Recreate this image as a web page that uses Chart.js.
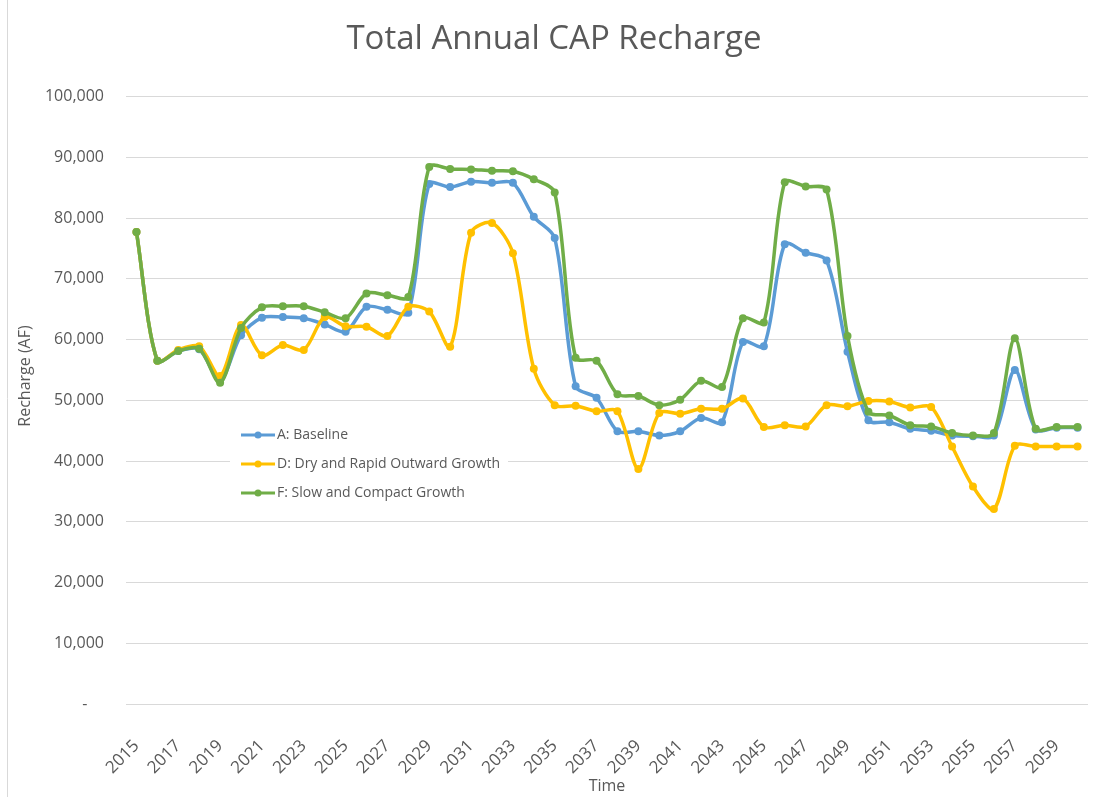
<!DOCTYPE html>
<html>
<head>
<meta charset="utf-8">
<script src="https://cdn.jsdelivr.net/npm/chart.js@4"></script>
<style>
  html,body{margin:0;padding:0;background:#fff;}
  #wrap{position:relative;width:1093px;height:797px;}
</style>
</head>
<body>
<div id="wrap"><canvas id="rechargeChart" width="1093" height="797"></canvas></div>
<script>
// data (acre-feet)
const years = [2015,2016,2017,2018,2019,2020,2021,2022,2023,2024,2025,2026,2027,2028,2029,2030,
  2031,2032,2033,2034,2035,2036,2037,2038,2039,2040,2041,2042,2043,2044,2045,2046,2047,2048,2049,
  2050,2051,2052,2053,2054,2055,2056,2057,2058,2059,2060];

const baseline = [77700,56500,58100,58400,53300,60700,63600,63700,63500,62500,61300,65400,64900,64400,85600,85100,
  86000,85800,85800,80200,76700,52300,50400,44900,44900,44200,44900,47100,46400,59600,58900,75700,74300,73000,58000,
  46700,46400,45300,45000,44200,44100,44200,55000,45200,45500,45500];

const dryRapid = [77700,56500,58300,58900,54000,62400,57400,59100,58300,63700,62200,62100,60600,65400,64600,58800,
  77600,79200,74200,55200,49200,49100,48200,48200,38700,47900,47800,48600,48600,50300,45600,45900,45700,49200,49000,
  49900,49800,48800,48900,42400,35800,32100,42500,42400,42400,42400];

const slowCompact = [77700,56500,58100,58500,52900,61900,65300,65500,65500,64500,63500,67600,67300,67000,88400,88100,
  88000,87800,87700,86400,84200,57000,56500,51000,50700,49200,50100,53200,52200,63500,62800,85900,85200,84700,60600,
  48100,47500,45900,45700,44600,44200,44600,60200,45300,45600,45600];

const seriesNames = ["A: Baseline","D: Dry and Rapid Outward Growth","F: Slow and Compact Growth"];
const seriesColors = ["#5B9BD5","#FFC000","#70AD47"];

const FONT = "'Open Sans', sans-serif";
const GREY = "#595959";

// legend sits inside the plot, Excel style; y title drawn here too
const insideLegend = {
  id: "insideLegend",
  afterDraw(chart){
    const ctx = chart.ctx;
    ctx.save();
    ctx.fillStyle = "#fff";
    ctx.fillRect(230, 420, 278, 90);
    chart.data.datasets.forEach((ds, i) => {
      const y = 435 + i * 29;
      ctx.strokeStyle = ds.borderColor;
      ctx.lineWidth = 3;
      ctx.beginPath();
      ctx.moveTo(241, y);
      ctx.lineTo(275, y);
      ctx.stroke();
      ctx.fillStyle = ds.borderColor;
      ctx.beginPath();
      ctx.arc(258, y, 3.5, 0, Math.PI * 2);
      ctx.fill();
      ctx.fillStyle = GREY;
      ctx.font = "14px " + FONT;
      ctx.textBaseline = "middle";
      ctx.textAlign = "left";
      ctx.fillText(ds.label, 277, y);
    });
    // axis title
    ctx.translate(25, 376);
    ctx.rotate(-Math.PI / 2);
    ctx.font = "16px " + FONT;
    ctx.textAlign = "center";
    ctx.fillText("Recharge (AF)", 0, 0);
    ctx.setTransform(1, 0, 0, 1, 0, 0);
    // chart frame edge on the left
    ctx.strokeStyle = "#d9d9d9";
    ctx.lineWidth = 1;
    ctx.beginPath();
    ctx.moveTo(7.5, 0);
    ctx.lineTo(7.5, 797);
    ctx.stroke();
    ctx.restore();
  }
};

const mk = (i, data, order) => ({
  label: seriesNames[i],
  data: data,
  borderColor: seriesColors[i],
  backgroundColor: seriesColors[i],
  borderWidth: 3.5,
  pointRadius: 4,
  pointBorderWidth: 0,
  tension: 0.3,
  order: order
});

new Chart(document.getElementById("rechargeChart"), {
  type: "line",
  data: {
    labels: years,
    datasets: [mk(0, baseline, 2), mk(1, dryRapid, 1), mk(2, slowCompact, 0)]
  },
  options: {
    responsive: false,
    animation: false,
    layout: {padding: {left: 20, right: 5, top: 0, bottom: 0}},
    plugins: {
      legend: {display: false},
      tooltip: {enabled: false},
      title: {
        display: true,
        text: "Total Annual CAP Recharge",
        color: GREY,
        font: {family: FONT, size: 33, weight: "normal"},
        padding: {top: 20, bottom: 37}
      }
    },
    scales: {
      x: {
        offset: true,
        grid: {display: false, offset: true},
        border: {display: false},
        ticks: {
          autoSkip: false,
          maxRotation: 45,
          minRotation: 45,
          padding: 24,
          color: GREY,
          font: {family: FONT, size: 17},
          callback: function(v, i){ return i % 2 === 0 ? String(years[i]) : ""; }
        },
        title: {display: true, text: "Time", color: GREY, font: {family: FONT, size: 16}, padding: {top: 0, bottom: 1}},
        afterFit(s){ s.height = 93; s.paddingRight = 0; s.paddingLeft = 0; }
      },
      y: {
        min: 0,
        max: 100000,
        grid: {color: "#d9d9d9", lineWidth: 1, drawTicks: false},
        border: {display: false},
        ticks: {
          stepSize: 10000,
          padding: 22,
          color: GREY,
          font: {family: FONT, size: 16},
          callback: v => v === 0 ? "-    " : v.toLocaleString("en-US")
        },
        afterFit(s){ s.width = 106; }
      }
    }
  },
  plugins: [insideLegend]
});
</script>
</body>
</html>
